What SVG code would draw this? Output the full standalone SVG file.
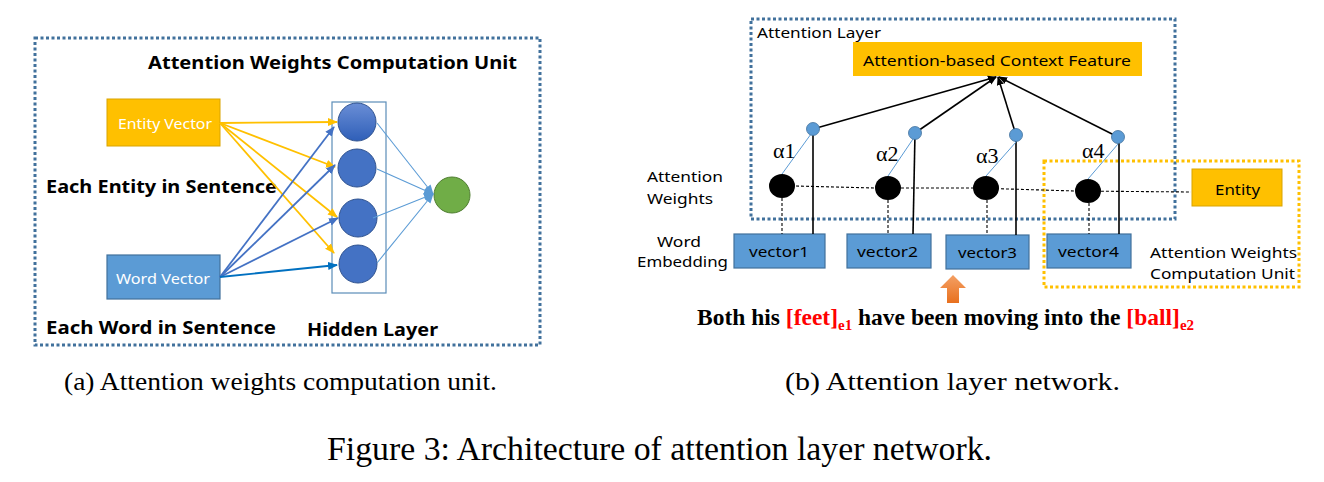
<svg xmlns="http://www.w3.org/2000/svg" width="1324" height="482" viewBox="0 0 1324 482">
<defs>
<style>
.sans{font-family:"Noto Sans","Open Sans","Liberation Sans",sans-serif}
.serif{font-family:"Liberation Serif","Times New Roman",serif}
.bold{font-weight:bold}
.dotB{fill:none;stroke:#41719C;stroke-width:3;stroke-dasharray:3 2.5}
.dotY{fill:none;stroke:#FFC000;stroke-width:3;stroke-dasharray:3 2.5}
.hid{fill:#4472C4;stroke:#2F528F;stroke-width:1}
.vec{fill:#5B9BD5;stroke:#41719C;stroke-width:1.2}
.ora{fill:#FFC000;stroke:#D9A400;stroke-width:1}
.ya{stroke:#FFC000;stroke-width:1.8;fill:none}
.ba{stroke:#4472C4;stroke-width:1.8;fill:none}
.lb{stroke:#5B9BD5;stroke-width:1.1;fill:none}
.bk{stroke:#000;stroke-width:1.6;fill:none}
.dash{stroke:#000;stroke-width:1.1;stroke-dasharray:3 2;fill:none}
.thin{stroke:#5B9BD5;stroke-width:1;fill:none}
</style>
<marker id="mY" markerUnits="userSpaceOnUse" markerWidth="10" markerHeight="10" viewBox="0 0 10 10" refX="9" refY="5" orient="auto"><path d="M0,1 L10,5 L0,9 z" fill="#FFC000"/></marker>
<marker id="mB" markerUnits="userSpaceOnUse" markerWidth="10" markerHeight="10" viewBox="0 0 10 10" refX="9" refY="5" orient="auto"><path d="M0,1 L10,5 L0,9 z" fill="#4472C4"/></marker>
<marker id="mD" markerUnits="userSpaceOnUse" markerWidth="10" markerHeight="10" viewBox="0 0 10 10" refX="9" refY="5" orient="auto"><path d="M0,1 L10,5 L0,9 z" fill="#0070C0"/></marker>
<marker id="mL" markerUnits="userSpaceOnUse" markerWidth="10" markerHeight="10" viewBox="0 0 10 10" refX="9" refY="5" orient="auto"><path d="M0,1 L10,5 L0,9 z" fill="#5B9BD5"/></marker>
<marker id="mK" markerUnits="userSpaceOnUse" markerWidth="9" markerHeight="9" viewBox="0 0 10 10" refX="9" refY="5" orient="auto"><path d="M0,1 L10,5 L0,9 z" fill="#000"/></marker>
<linearGradient id="g1" x1="0" y1="0" x2="0" y2="1"><stop offset="0" stop-color="#6A8ED6"/><stop offset="1" stop-color="#2F5FB8"/></linearGradient>
<linearGradient id="gO" x1="0" y1="0" x2="0" y2="1"><stop offset="0" stop-color="#F4A064"/><stop offset="1" stop-color="#E8701E"/></linearGradient>
</defs>
<rect width="1324" height="482" fill="#fff"/>

<!-- Left panel -->
<g id="unitBox"><rect class="dotB" x="35" y="38" width="505" height="307"/></g>
<g id="unitTitle"><text class="sans bold" x="148" y="69" font-size="17" textLength="369" lengthAdjust="spacingAndGlyphs">Attention Weights Computation Unit</text></g>
<g id="eachEntity"><text class="sans bold" x="46" y="193" font-size="18" textLength="231" lengthAdjust="spacingAndGlyphs">Each Entity in Sentence</text></g>
<g id="eachWord"><text class="sans bold" x="46" y="334" font-size="18" textLength="230" lengthAdjust="spacingAndGlyphs">Each Word in Sentence</text></g>
<g id="hiddenLabel"><text class="sans bold" x="307" y="336" font-size="18" textLength="131" lengthAdjust="spacingAndGlyphs">Hidden Layer</text></g>
<g id="entityVector"><rect class="ora" x="107" y="99" width="113" height="47"/><text class="sans" x="118" y="129" font-size="15" fill="#fff" textLength="94" lengthAdjust="spacingAndGlyphs">Entity Vector</text></g>
<g id="wordVector"><rect class="vec" x="107" y="255" width="113" height="44"/><text class="sans" x="116" y="284" font-size="15" fill="#fff" textLength="94" lengthAdjust="spacingAndGlyphs">Word Vector</text></g>
<g id="hiddenLayer"><rect x="332" y="102" width="54" height="191" fill="none" stroke="#5B8DB8" stroke-width="1.2"/></g>
<g id="h1"><circle cx="357" cy="122" r="19" fill="url(#g1)" stroke="#2F528F"/></g>
<g id="h2"><circle class="hid" cx="357" cy="168" r="19"/></g>
<g id="h3"><circle class="hid" cx="358" cy="218" r="19"/></g>
<g id="h4"><circle class="hid" cx="358" cy="264" r="19"/></g>
<g id="output"><circle cx="452" cy="195" r="18" fill="#70AD47" stroke="#507E32"/></g>
<g id="leftConnectors">
<line class="ya" x1="220" y1="123" x2="337" y2="122" marker-end="url(#mY)"/>
<line class="ya" x1="220" y1="123" x2="335" y2="167" marker-end="url(#mY)"/>
<line class="ya" x1="220" y1="123" x2="337" y2="217" marker-end="url(#mY)"/>
<line class="ya" x1="220" y1="123" x2="334" y2="253" marker-end="url(#mY)"/>
<line class="ba" x1="220" y1="277" x2="334" y2="127" marker-end="url(#mB)"/>
<line class="ba" x1="220" y1="277" x2="335" y2="165" marker-end="url(#mB)"/>
<line class="ba" x1="220" y1="277" x2="338" y2="218" marker-end="url(#mB)"/>
<line x1="220" y1="277" x2="337" y2="265" stroke="#0070C0" stroke-width="1.8" marker-end="url(#mD)"/>
<line class="lb" x1="377" y1="123" x2="433" y2="194" marker-end="url(#mL)"/>
<line class="lb" x1="377" y1="169" x2="433" y2="194" marker-end="url(#mL)"/>
<line class="lb" x1="373" y1="218" x2="433" y2="194" marker-end="url(#mL)"/>
<line class="lb" x1="377" y1="263" x2="433" y2="194" marker-end="url(#mL)"/>
</g>

<!-- Right panel -->
<g id="attLayerBox"><rect class="dotB" x="751" y="19" width="424" height="200"/><text class="sans" x="757" y="38" font-size="14.5" textLength="124" lengthAdjust="spacingAndGlyphs">Attention Layer</text></g>
<g id="awcuBox"><rect class="dotY" x="1044" y="161" width="255" height="126"/><text class="sans" x="1150" y="258" font-size="14.5" textLength="147" lengthAdjust="spacingAndGlyphs">Attention Weights</text><text class="sans" x="1150" y="279" font-size="14.5" textLength="145" lengthAdjust="spacingAndGlyphs">Computation Unit</text></g>
<g id="contextFeature"><rect x="853" y="42" width="289" height="34" fill="#FFC000"/><text class="sans" x="863" y="66" font-size="15" textLength="268" lengthAdjust="spacingAndGlyphs">Attention-based Context Feature</text></g>
<g id="entity"><rect class="ora" x="1192" y="169" width="90" height="37"/><text class="sans" x="1215" y="195" font-size="15" textLength="45" lengthAdjust="spacingAndGlyphs">Entity</text></g>
<g id="labels">
<text class="sans" x="647" y="182" font-size="14.5" textLength="76" lengthAdjust="spacingAndGlyphs">Attention</text>
<text class="sans" x="647" y="204" font-size="14.5" textLength="66" lengthAdjust="spacingAndGlyphs">Weights</text>
<text class="sans" x="657" y="247" font-size="14.5" textLength="44" lengthAdjust="spacingAndGlyphs">Word</text>
<text class="sans" x="637" y="267" font-size="14.5" textLength="91" lengthAdjust="spacingAndGlyphs">Embedding</text>
</g>
<g id="vector1"><rect class="vec" x="734" y="234" width="91" height="34"/><text class="sans" x="749" y="257" font-size="15" textLength="60" lengthAdjust="spacingAndGlyphs">vector1</text></g>
<g id="vector2"><rect class="vec" x="847" y="234" width="84" height="34"/><text class="sans" x="857" y="257" font-size="15" textLength="61" lengthAdjust="spacingAndGlyphs">vector2</text></g>
<g id="vector3"><rect class="vec" x="946" y="235" width="83" height="34"/><text class="sans" x="958" y="258" font-size="15" textLength="59" lengthAdjust="spacingAndGlyphs">vector3</text></g>
<g id="vector4"><rect class="vec" x="1047" y="234" width="84" height="34"/><text class="sans" x="1058" y="257" font-size="15" textLength="61" lengthAdjust="spacingAndGlyphs">vector4</text></g>
<g id="rightConnectors">
<polyline class="dash" points="796,186 875,188 975,188 1075,191 1191,192"/>
<line class="dash" x1="782" y1="198" x2="782" y2="234"/>
<line class="dash" x1="888" y1="200" x2="888" y2="234"/>
<line class="dash" x1="987" y1="200" x2="987" y2="235"/>
<line class="dash" x1="1089" y1="203" x2="1089" y2="234"/>
<line class="bk" x1="813" y1="129" x2="813" y2="234"/>
<line class="bk" x1="915" y1="133" x2="913" y2="234"/>
<line class="bk" x1="1016" y1="135" x2="1016" y2="235"/>
<line class="bk" x1="1119" y1="137" x2="1119" y2="234"/>
<line class="thin" x1="782" y1="174" x2="811" y2="134"/>
<line class="thin" x1="888" y1="176" x2="913" y2="139"/>
<line class="thin" x1="986" y1="176" x2="1016" y2="142"/>
<line class="thin" x1="1088" y1="179" x2="1118" y2="144"/>
<line class="bk" x1="813" y1="129" x2="996" y2="77" marker-end="url(#mK)"/>
<line class="bk" x1="915" y1="133" x2="996" y2="77" marker-end="url(#mK)"/>
<line class="bk" x1="1016" y1="135" x2="998" y2="77" marker-end="url(#mK)"/>
<line class="bk" x1="1118" y1="137" x2="999" y2="77" marker-end="url(#mK)"/>
</g>
<g id="weights">
<ellipse cx="782" cy="186" rx="13" ry="12"/>
<ellipse cx="888" cy="188" rx="13" ry="12"/>
<ellipse cx="986" cy="188" rx="13" ry="12"/>
<ellipse cx="1088" cy="191" rx="13" ry="12"/>
</g>
<g id="products">
<circle cx="813" cy="129" r="6.5" fill="#5B9BD5" stroke="#41719C" stroke-width="0.8"/>
<circle cx="915" cy="133" r="6.5" fill="#5B9BD5" stroke="#41719C" stroke-width="0.8"/>
<circle cx="1016" cy="135" r="6.5" fill="#5B9BD5" stroke="#41719C" stroke-width="0.8"/>
<circle cx="1118" cy="137" r="6.5" fill="#5B9BD5" stroke="#41719C" stroke-width="0.8"/>
</g>
<g id="alphas" class="serif" font-size="22">
<text x="773" y="158">α1</text>
<text x="876" y="161">α2</text>
<text x="976" y="163">α3</text>
<text x="1082" y="158">α4</text>
</g>
<g id="upArrow"><path d="M953,275 L966,288 L959,288 L959,303 L947,303 L947,288 L940,288 Z" fill="url(#gO)"/></g>
<g id="sentence"><text class="serif bold" x="697" y="325" font-size="23.5">Both his <tspan fill="#FF0000">[feet]</tspan><tspan fill="#FF0000" font-size="15" dy="5">e1</tspan><tspan dy="-5"> have been moving into the </tspan><tspan fill="#FF0000">[ball]</tspan><tspan fill="#FF0000" font-size="15" dy="5">e2</tspan></text></g>

<!-- Captions -->
<g id="captions" class="serif">
<text x="64" y="390" font-size="25" textLength="433" lengthAdjust="spacingAndGlyphs">(a) Attention weights computation unit.</text>
<text x="785" y="390" font-size="25" textLength="335" lengthAdjust="spacingAndGlyphs">(b) Attention layer network.</text>
<text x="327" y="460" font-size="34" textLength="665" lengthAdjust="spacingAndGlyphs">Figure 3: Architecture of attention layer network.</text>
</g>
</svg>
